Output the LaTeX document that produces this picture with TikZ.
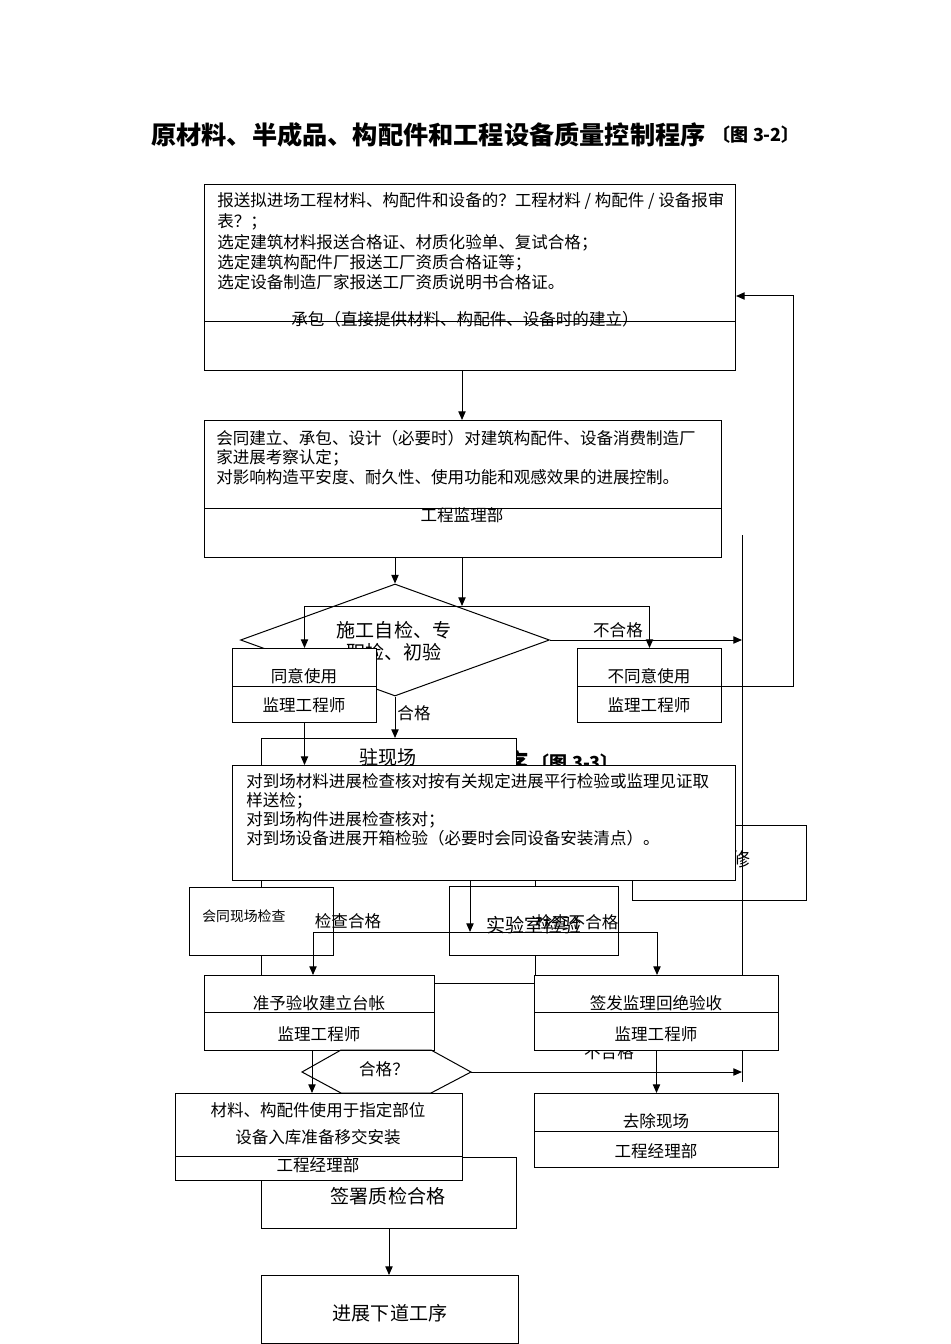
\documentclass[tikz,border=0pt]{standalone}
\usepackage{fontspec}
\newfontfamily\cjk{Noto Sans CJK SC}
\usetikzlibrary{arrows.meta,shapes.geometric}
\begin{document}
\begin{tikzpicture}[x=0.75pt,y=-0.75pt,
  box/.style={draw, line width=0.75pt, fill=white, inner sep=0pt, rectangle, anchor=north west},
  sz/.style 2 args={minimum width=#1*0.75pt, minimum height=#2*0.75pt},
  ln/.style={line width=0.75pt},
  arr/.style={ln, -{Triangle[length=6.5pt,width=5.5pt]}},
  tx/.style={inner sep=0pt, font=\cjk\fontsize{12.4}{15}\selectfont, text height=10.9pt, text depth=1.5pt},
  tl/.style={tx, anchor=west},
  tb/.style={inner sep=0pt, font=\cjk\fontsize{14.3}{17}\selectfont, text height=12.6pt, text depth=1.7pt},
  ts/.style={inner sep=0pt, anchor=west, font=\cjk\fontsize{10.4}{12}\selectfont, text height=9.1pt, text depth=1.3pt},
  ttl/.style={inner sep=0pt, font=\cjk\bfseries\fontsize{18.9}{22}\selectfont, text height=16.6pt, text depth=2.3pt},
  fig/.style={inner sep=0pt, font=\cjk\bfseries\fontsize{13.5}{15}\selectfont, text height=11.9pt, text depth=1.6pt},
]
\useasboundingbox (0,0) rectangle (950,1344);

% title
\node[ttl, anchor=west] (title) at (151,135) {原材料、半成品、构配件和工程设备质量控制程序};
\node[fig, anchor=west, xshift=5pt] (figno) at (title.east) {〔图 3-2〕};

% box 1
\node[box, sz={531}{186}] (b1) at (204,184) {};
\node[tl] (b1t1) at (217,200) {报送拟进场工程材料、构配件和设备的？工程材料 / 构配件 / 设备报审};
\node[tl] (b1t2) at (217,221) {表？；};
\node[tl] (b1t3) at (217,242) {选定建筑材料报送合格证、材质化验单、复试合格；};
\node[tl] (b1t4) at (217,262) {选定建筑构配件厂报送工厂资质合格证等；};
\node[tl] (b1t5) at (217,282) {选定设备制造厂家报送工厂资质说明书合格证。};
\node[tx] (b1r) at (465,319) {承包（直接提供材料、构配件、设备时的建立）};
\draw[ln] (b1.west |- 0,321) -- (b1.east |- 0,321);

% box 2
\node[box, sz={517}{137}] (b2) at (204,420) {};
\draw[ln] (b2.west |- 0,508) -- (b2.east |- 0,508);
\node[tl] (b2t1) at (216,438) {会同建立、承包、设计（必要时）对建筑构配件、设备消费制造厂};
\node[tl] (b2t2) at (216,457) {家进展考察认定；};
\node[tl] (b2t3) at (216,477) {对影响构造平安度、耐久性、使用功能和观感效果的进展控制。};
\node[tx] (b2r) at (462,515) {工程监理部};
\draw[arr] (462,0 |- b1.south) -- (462,0 |- b2.north);

% right vertical line
\coordinate (vt) at (742,535);
\coordinate (vb) at (742,1082);

% diamond
\node[draw, ln, diamond, inner sep=0pt, sz={309}{112}] (d1) at (395,640) {};
\node[tb] (d1t1) at (394,630) {施工自检、专};
\node[tb] (d1t2) at (394,652) {职检、初验};
\draw[arr] (d1.north |- b2.south) -- (d1.north);

% agree / disagree boxes
\node[box, sz={144}{74}] (ok) at (232,648) {};
\draw[ln] (ok.west |- 0,686) -- (ok.east |- 0,686);
\node[tx] (okt1) at (304,676) {同意使用};
\node[tx] (okt2) at (304,705) {监理工程师};
\node[box, sz={144}{74}] (ng) at (577,648) {};
\draw[ln] (ng.west |- 0,686) -- (ng.east |- 0,686);
\node[tx] (ngt1) at (649,676) {不同意使用};
\node[tx] (ngt2) at (649,705) {监理工程师};

\coordinate (j1) at (462,606);
\draw[arr] (b2.south -| j1) -- (j1);
\draw[ln] (ok.north |- j1) -- (ng.north |- j1);
\draw[arr] (ok.north |- j1) -- (ok.north);
\draw[arr] (ng.north |- j1) -- (ng.north);

\draw[arr] (d1.east) -- (d1.east -| vt);
\node[tx] (l1) at (618,630) {不合格};
\draw[arr] (ng.east |- 0,686) -- (793,686) -- (793,296) -- (b1.east |- 0,296);

% second (hidden) title and on-site box
\node[ttl, anchor=east] (t2a) at (529,763) {序};
\node[fig, anchor=west, xshift=2pt] (t2b) at (t2a.east) {〔图 3-3〕};
\node[box, sz={255}{62}] (zx) at (261,738) {};
\node[tb] (zxt) at (388,757) {驻现场};
\draw[arr] (d1.south) -- (d1.south |- zx.north);
\node[tx] (l2) at (414,713) {合格};
\node[draw, ln, inner sep=0pt, anchor=north west, sz={274}{133}] (hid) at (261,850) {};

% repair box (mostly hidden)
\node[box, sz={174}{75}] (zx2) at (632,825) {};
\node[tb] (xiu) at (741,859) {修};

% big box
\node[box, sz={503}{115}] (bb) at (232,765) {};
\node[tl] (bbt1) at (246,781) {对到场材料进展检查核对按有关规定进展平行检验或监理见证取};
\node[tl] (bbt2) at (246,800) {样送检；};
\node[tl] (bbt3) at (246,819) {对到场构件进展检查核对；};
\node[tl] (bbt4) at (246,838) {对到场设备进展开箱检验（必要时会同设备安装清点）。};
\draw[arr] (ok.south) -- (ok.south |- bb.north);

\draw[ln] (vt) -- (vb);

% inspection boxes
\node[box, sz={144}{68}] (hc) at (189,887) {};
\node[ts] (hct) at (202,916) {会同现场检查};
\node[box, sz={169}{69}] (sy) at (449,886) {};
\node[tb] (syt) at (534,925) {实验室检验};

\coordinate (j2) at (470,932);
\draw[arr] (bb.south -| j2) -- (j2);
\coordinate (j2l) at (313,932);
\coordinate (j2r) at (657,932);
\draw[ln] (j2l) -- (j2r);
\node[tx] (l3) at (348,921) {检查合格};
\node[tx] (l4) at (577,922) {检查不合格};

% accept / reject boxes
\node[tx] (l5) at (609,1052) {不合格};
\node[box, sz={230}{75}] (zy) at (204,975) {};
\draw[ln] (zy.west |- 0,1012) -- (zy.east |- 0,1012);
\node[tx] (zyt1) at (319,1003) {准予验收建立台帐};
\node[tx] (zyt2) at (319,1034) {监理工程师};
\node[box, sz={244}{75}] (qf) at (534,975) {};
\draw[ln] (qf.west |- 0,1012) -- (qf.east |- 0,1012);
\node[tx] (qft1) at (656,1003) {签发监理回绝验收};
\node[tx] (qft2) at (656,1034) {监理工程师};
\draw[arr] (j2l) -- (j2l |- zy.north);
\draw[arr] (j2r) -- (j2r |- qf.north);

% hexagon
\coordinate (hxR) at (471,1072);
\draw[ln] (302,1072) -- (341,1050) -- (431,1050) -- (hxR) -- (431,1093) -- (341,1093) -- cycle;
\node[tx] (hxt) at (384,1069) {合格？};
\draw[arr] (hxR) -- (hxR -| vb);

% remove box
\node[box, sz={244}{74}] (qc) at (534,1093) {};
\draw[ln] (qc.west |- 0,1131) -- (qc.east |- 0,1131);
\node[tx] (qct1) at (656,1121) {去除现场};
\node[tx] (qct2) at (656,1151) {工程经理部};
\draw[arr] (qf.south) -- (qc.north);

% sign box and material box
\node[box, sz={255}{71}] (qs) at (261,1157) {};
\node[tb] (qst) at (388,1196) {签署质检合格};
\node[box, sz={287}{87}] (cl) at (175,1093) {};
\draw[ln] (cl.west |- 0,1156) -- (cl.east |- 0,1156);
\node[tx] (clt1) at (318,1110) {材料、构配件使用于指定部位};
\node[tx] (clt2) at (318,1137) {设备入库准备移交安装};
\node[tx] (clt3) at (318,1165) {工程经理部};
\draw[arr] (312,0 |- zy.south) -- (312,0 |- cl.north);

% next step
\node[box, sz={257}{68}] (jz) at (261,1275) {};
\node[tb] (jzt) at (390,1313) {进展下道工序};
\draw[arr] (qs.south) -- (qs.south |- jz.north);
\end{tikzpicture}
\end{document}
